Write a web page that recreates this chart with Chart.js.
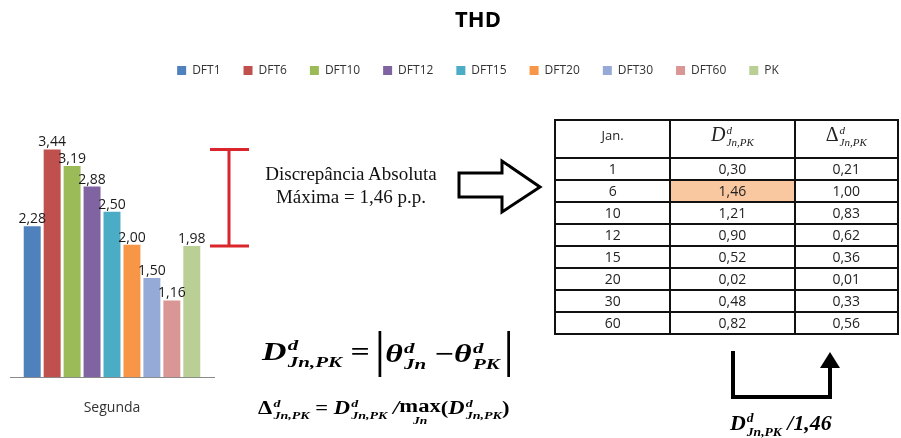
<!DOCTYPE html>
<html>
<head>
<meta charset="utf-8">
<script src="https://cdn.jsdelivr.net/npm/chart.js@4.4.1/dist/chart.umd.min.js"></script>
<style>
body{margin:0;width:901px;height:438px;overflow:hidden;background:#fff;position:relative;font-family:"Open Sans",sans-serif;}
#grafico{position:absolute;left:0;top:0;}
.abs-pos{position:absolute;}
.txt{font-family:"Liberation Serif",serif;font-size:19px;line-height:23px;text-align:center;color:#111;}
.m{font-family:"Liberation Serif",serif;font-style:italic;font-weight:bold;color:#000;white-space:nowrap;transform-origin:0 50%;}
.ss{display:inline-block;vertical-align:-0.45em;font-size:0.55em;line-height:1.05;text-align:left;margin-left:1px;}
.m .ss{font-size:0.62em;}
.ss span{display:block;}
.up{font-style:normal;}
.barra{display:inline-block;border-left:2px solid #000;border-right:2px solid #000;padding:0 5px 0 3px;height:46px;line-height:46px;vertical-align:middle;}
.lim{display:inline-block;vertical-align:-0.55em;text-align:center;line-height:1;font-style:normal;}
.lim span{display:block;}
.lim .s{font-size:0.6em;font-style:italic;}
table{border-collapse:collapse;font-size:14px;color:#222;}
td{border:2px solid #111;text-align:center;height:20px;padding:0;line-height:20px;}
th{border:2px solid #111;font-weight:normal;height:36px;padding:0;vertical-align:top;}
th .h1{display:block;padding-top:5px;font-size:13px;}
th .h2{font-family:"Liberation Serif",serif;font-style:italic;font-size:20px;display:inline-block;padding-top:2px;}
.dest{background:#F9C8A1;}
</style>
</head>
<body>
<canvas id="grafico" width="956" height="438"></canvas>

<div class="abs-pos txt" id="discrep" style="left:251px;top:162px;width:200px;"></div>

<svg class="abs-pos" style="left:0;top:0;" width="901" height="438">
<polygon points="459,173 502,173 502,161 540,187 502,212 502,197 459,197" fill="#fff" stroke="#000" stroke-width="3" stroke-linejoin="miter"/>
<polyline points="733,351 733,397 830,397 830,366" fill="none" stroke="#000" stroke-width="4"/>
<polygon points="820,368 840,368 830,352" fill="#000"/>
</svg>

<table class="abs-pos" id="tabela" style="left:554px;top:119px;width:345px;">
<colgroup><col style="width:116px"><col style="width:125px"><col style="width:104px"></colgroup>
<thead><tr>
<th><span class="h1">Jan.</span></th>
<th><span class="h2">D<span class="ss" style="font-weight:normal"><span>d</span><span>Jn,PK</span></span></span></th>
<th><span class="h2"><span class="up">Δ</span><span class="ss"><span>d</span><span>Jn,PK</span></span></span></th>
</tr></thead>
<tbody id="corpo"></tbody>
</table>

<div class="abs-pos m" data-larg="248" style="left:262px;top:331px;font-size:25px;">
D<span class="ss"><span>d</span><span>Jn,PK</span></span> <span class="up">=</span> <span class="barra">θ<span class="ss"><span>d</span><span>Jn</span></span> <span class="up">−</span>θ<span class="ss"><span>d</span><span>PK</span></span></span>
</div>

<div class="abs-pos m" data-larg="252" style="left:258px;top:397px;font-size:18px;">
<span class="up">Δ</span><span class="ss"><span>d</span><span>Jn,PK</span></span> <span class="up">=</span> D<span class="ss"><span>d</span><span>Jn,PK</span></span> /<span class="lim"><span>max</span><span class="s">Jn</span></span><span class="up">(</span>D<span class="ss"><span>d</span><span>Jn,PK</span></span><span class="up">)</span>
</div>

<div class="abs-pos m" data-larg="102" style="left:730px;top:411px;font-size:21px;">
D<span class="ss"><span>d</span><span>Jn,PK</span></span> /1,46
</div>

<script>
// valores
const categorias = ['Segunda'];
const series = ['DFT1', 'DFT6', 'DFT10', 'DFT12', 'DFT15', 'DFT20', 'DFT30', 'DFT60', 'PK'];
const valores = [2.28, 3.44, 3.19, 2.88, 2.50, 2.00, 1.50, 1.16, 1.98];
const cores = ['#4F81BD', '#C0504D', '#9BBB59', '#8064A2', '#4BACC6', '#F79646', '#95AAD6', '#D99694', '#B9CF96'];

// tabela
const janelas = ['1', '6', '10', '12', '15', '20', '30', '60'];
const discrepancia = [0.30, 1.46, 1.21, 0.90, 0.52, 0.02, 0.48, 0.82];
const normalizada = [0.21, 1.00, 0.83, 0.62, 0.36, 0.01, 0.33, 0.56];

const fmt = v => v.toFixed(2).replace('.', ',');

const maxDisc = Math.max(...discrepancia);
document.getElementById('discrep').innerHTML = 'Discrepância Absoluta<br>Máxima = ' + fmt(maxDisc) + ' p.p.';

const corpo = document.getElementById('corpo');
janelas.forEach((j, i) => {
  const tr = document.createElement('tr');
  tr.innerHTML = '<td>' + j + '</td><td' + (discrepancia[i] === maxDisc ? ' class="dest"' : '') + '>' +
    fmt(discrepancia[i]) + '</td><td>' + fmt(normalizada[i]) + '</td>';
  corpo.appendChild(tr);
});

// formulas esticadas na horizontal como na imagem
document.querySelectorAll('[data-larg]').forEach(el => {
  el.style.transform = 'scaleX(' + (el.dataset.larg / el.offsetWidth) + ')';
});

const rotulos = {
  id: 'rotulos',
  afterDatasetsDraw(chart) {
    const ctx = chart.ctx;
    ctx.save();
    ctx.font = '14px "Open Sans"';
    ctx.fillStyle = '#1a1a1a';
    ctx.textAlign = 'center';
    ctx.textBaseline = 'alphabetic';
    chart.data.datasets.forEach((ds, i) => {
      const barra = chart.getDatasetMeta(i).data[0];
      ctx.fillText(fmt(ds.data[0]), barra.x, barra.y - 3);
    });
    // marca vermelha da discrepancia
    const y = chart.scales.y;
    const yTopo = y.getPixelForValue(Math.max(...valores));
    const yBase = y.getPixelForValue(valores[valores.length - 1]);
    ctx.strokeStyle = '#D9252B';
    ctx.lineWidth = 3;
    ctx.beginPath();
    ctx.moveTo(229, yTopo); ctx.lineTo(229, yBase);
    ctx.moveTo(210, yTopo); ctx.lineTo(249, yTopo);
    ctx.moveTo(210, yBase); ctx.lineTo(249, yBase);
    ctx.stroke();
    ctx.restore();
  }
};

Chart.defaults.font.family = '"Open Sans", sans-serif';

const ctx_grafico = document.getElementById('grafico');
const grafico = new Chart(ctx_grafico, {
  type: 'bar',
  data: {
    labels: categorias,
    datasets: series.map((s, i) => ({
      label: s,
      data: [valores[i]],
      backgroundColor: cores[i],
      categoryPercentage: 0.88,
      barPercentage: 0.85
    }))
  },
  options: {
    responsive: false,
    animation: false,
    devicePixelRatio: 1,
    layout: { padding: { bottom: 0 } },
    plugins: {
      title: {
        display: true,
        text: 'THD',
        color: '#000',
        font: { size: 22, weight: 'bold' },
        padding: { top: 8, bottom: 7 }
      },
      legend: {
        labels: { boxWidth: 9, boxHeight: 9, padding: 23, color: '#333', font: { size: 12 } }
      },
      tooltip: { enabled: false }
    },
    scales: {
      x: {
        grid: { display: false, drawTicks: false },
        border: { color: '#8a8a8a' },
        ticks: { color: '#333', font: { size: 14 }, padding: 22 }
      },
      xTopo: {
        type: 'category',
        labels: categorias,
        position: 'top',
        grid: { display: false, drawTicks: false },
        border: { display: false },
        ticks: { display: false },
        afterFit: s => { s.height = 26; }
      },
      y: {
        min: 0,
        max: 4,
        grid: { display: false, drawTicks: false },
        border: { display: false },
        ticks: { display: false },
        afterFit: s => { s.width = 10; }
      },
      yDir: {
        type: 'linear',
        position: 'right',
        min: 0,
        max: 1,
        grid: { display: false, drawTicks: false },
        border: { display: false },
        ticks: { display: false },
        afterFit: s => { s.width = 956 - 214; }
      }
    }
  },
  plugins: [rotulos]
});
</script>
</body>
</html>
